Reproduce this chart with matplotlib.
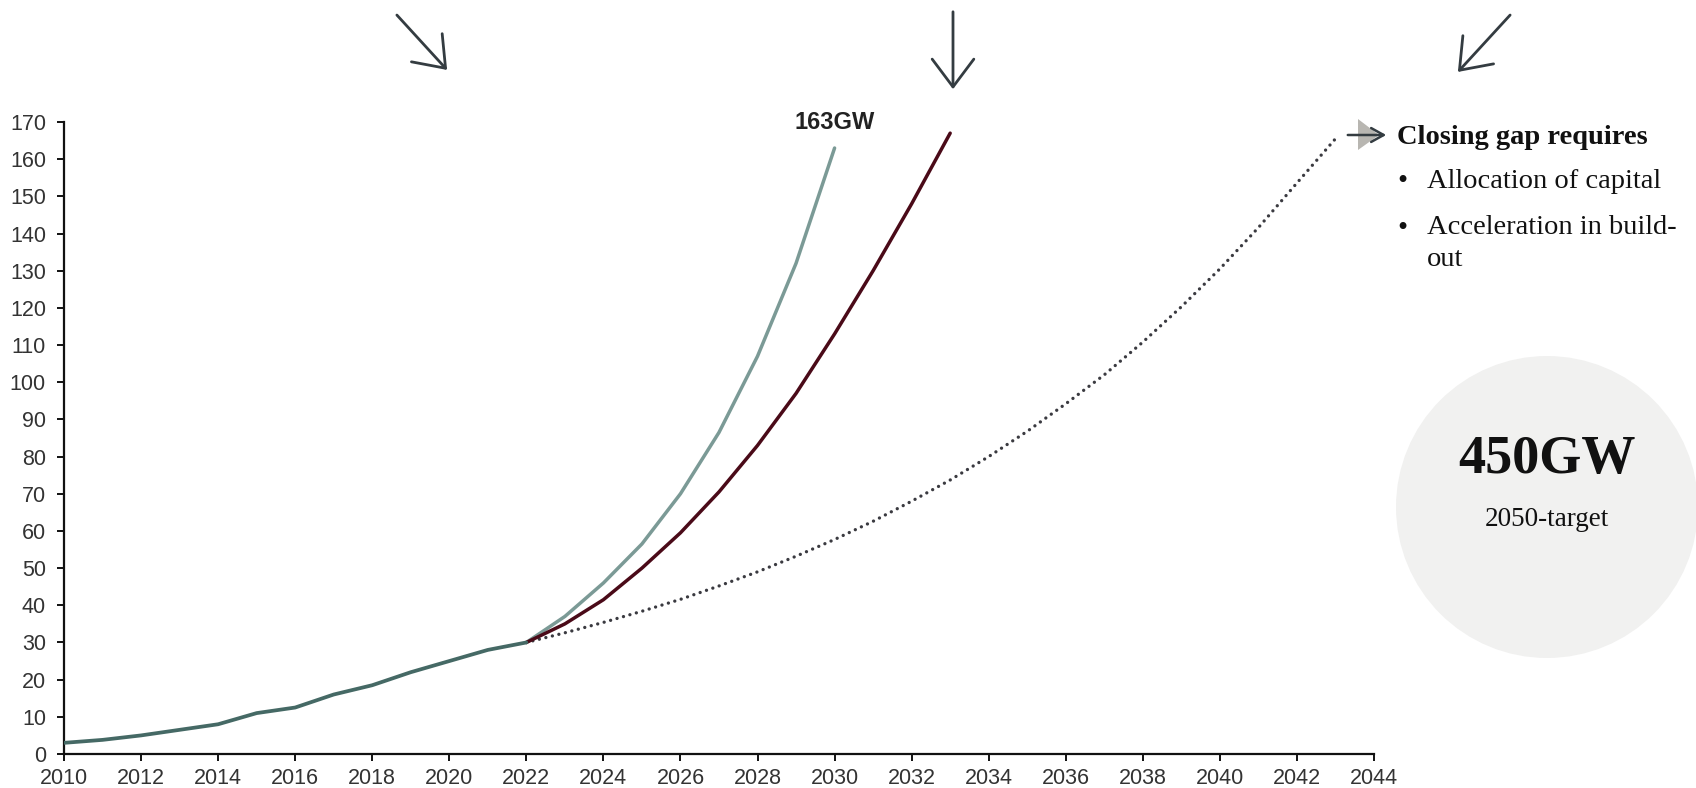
import matplotlib
matplotlib.use("Agg")
import matplotlib.pyplot as plt
from matplotlib.patches import FancyArrowPatch, Circle, Polygon

# installed capacity, GW
hist_years = list(range(2010, 2023))
hist_gw = [3, 3.8, 5, 6.5, 8, 11, 12.5, 16, 18.5, 22, 25, 28, 30]

fast_years = list(range(2022, 2031))
fast_gw = [30, 37, 46, 56.5, 70, 86.5, 107, 132, 163]

mid_years = list(range(2022, 2034))
mid_gw = [30, 35, 41.5, 50, 59.5, 70.5, 83, 97, 113, 130, 148, 167]

slow_years = list(range(2022, 2044))
slow_gw = [30, 32.6, 35.4, 38.4, 41.6, 45.2, 49, 53.2, 57.7, 62.6, 68, 73.7,
           80, 86.8, 94.2, 102, 110.8, 120.3, 130.5, 141.6, 153.6, 165.5]

x_ticks = list(range(2010, 2045, 2))
y_ticks = list(range(0, 171, 10))

W, H = 1696, 788
fig = plt.figure(figsize=(W / 100, H / 100), dpi=100)
ax = fig.add_axes([64 / W, 1 - 754 / H, (1374 - 64) / W, (754 - 122) / H])


def fpos(x, y):
    # pixel position from the top-left corner -> figure fraction
    return (x / W, 1 - y / H)


ax.plot(hist_years, hist_gw, color="#456965", lw=2.7, solid_capstyle="round", zorder=4)
ax.plot(fast_years, fast_gw, color="#7b9a96", lw=2.5, solid_capstyle="round", zorder=3)
ax.plot(mid_years, mid_gw, color="#4a0a18", lw=2.5, solid_capstyle="round", zorder=3)
ax.plot(slow_years, slow_gw, color="#3a3a40", lw=2.4, linestyle=(0, (0.01, 2.0)),
        dash_capstyle="round", zorder=2)

ax.text(fast_years[-1], 170, f"{fast_gw[-1]:.0f}GW", ha="center", va="center",
        fontsize=17, fontweight="bold", color="#222", family="Liberation Sans")

ax.set_xlim(2010, 2044)
ax.set_ylim(0, 170)
ax.set_xticks(x_ticks)
ax.set_yticks(y_ticks)
for s in ["top", "right"]:
    ax.spines[s].set_visible(False)
for s in ["left", "bottom"]:
    ax.spines[s].set_linewidth(1.6)
    ax.spines[s].set_color("#111")
ax.tick_params(length=5, width=1.4, color="#111", labelsize=15.5, labelcolor="#333")
ax.tick_params(axis="y", pad=8)
ax.tick_params(axis="x", pad=5)
for lab in ax.get_xticklabels() + ax.get_yticklabels():
    lab.set_family("Liberation Sans")

# arrows above the chart
arrow_kw = dict(transform=fig.transFigure, color="#343c41", lw=2.0,
                arrowstyle="->,head_length=20,head_width=15", mutation_scale=1)
for (x0, y0), (x1, y1) in [((395, 13), (449, 72)),
                           ((953, 9), (953, 92)),
                           ((1512, 13), (1456, 74))]:
    fig.add_artist(FancyArrowPatch(fpos(x0, y0), fpos(x1, y1), **arrow_kw))

# pointer into the side note
tri = Polygon([fpos(1358, 119), fpos(1358, 150), fpos(1379, 135)], closed=True,
              transform=fig.transFigure, facecolor="#b8b6b1", edgecolor="none")
fig.add_artist(tri)
fig.add_artist(FancyArrowPatch(fpos(1345, 135), fpos(1389, 135), transform=fig.transFigure,
                               color="#343c41", lw=1.8,
                               arrowstyle="->,head_length=9,head_width=5", mutation_scale=1))

serif = "Liberation Serif"
fig.text(*fpos(1397, 137), "Closing gap requires", ha="left", va="center",
         fontsize=20.5, fontweight="bold", family=serif, color="#111")
fig.text(*fpos(1397, 182), "•", ha="left", va="center", fontsize=21, family=serif, color="#111")
fig.text(*fpos(1427, 181), "Allocation of capital", ha="left", va="center",
         fontsize=20.5, family=serif, color="#111")
fig.text(*fpos(1397, 229), "•", ha="left", va="center", fontsize=21, family=serif, color="#111")
fig.text(*fpos(1427, 228), "Acceleration in build-", ha="left", va="center",
         fontsize=20.5, family=serif, color="#111")
fig.text(*fpos(1427, 259), "out", ha="left", va="center",
         fontsize=20.5, family=serif, color="#111")

# target bubble
bubble = Circle((1547, H - 507), 151, transform=None, facecolor="#f1f1f0", edgecolor="none")
fig.add_artist(bubble)
fig.text(*fpos(1547, 460), "450GW", ha="center", va="center",
         fontsize=39, fontweight="bold", family=serif, color="#111")
fig.text(*fpos(1547, 520), "2050-target", ha="center", va="center",
         fontsize=19.5, family=serif, color="#111")

fig.savefig("out.png", dpi=100)
